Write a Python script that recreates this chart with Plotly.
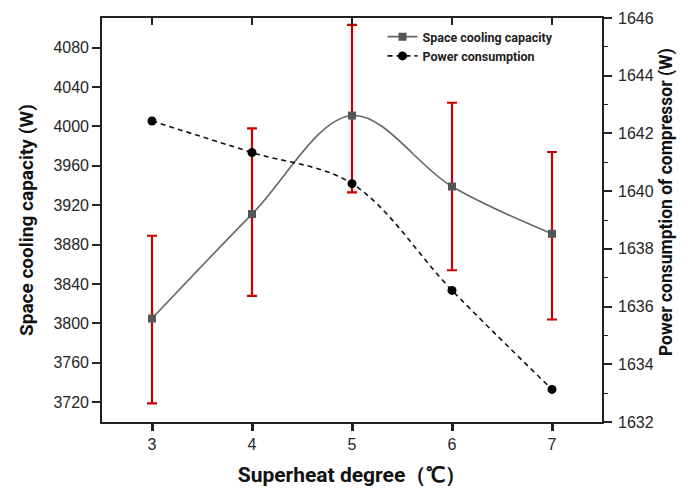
import plotly.graph_objects as go

superheat = [3, 4, 5, 6, 7]
cooling_capacity = [3805, 3911, 4011, 3939, 3891]
cooling_err_plus = [84, 87, 92, 85, 83]
cooling_err_minus = [86, 83, 78, 85, 87]
power_consumption = [1642.43, 1641.34, 1640.26, 1636.56, 1633.13]

left_ticks = [3720, 3760, 3800, 3840, 3880, 3920, 3960, 4000, 4040, 4080]
right_ticks = [1632, 1634, 1636, 1638, 1640, 1642, 1644, 1646]

COND = "Roboto, Liberation Sans, sans-serif"
TICKF = dict(family="Liberation Sans, Arial, sans-serif", size=16, color="#262626")

fig = go.Figure()

fig.add_trace(go.Scatter(
    x=superheat, y=cooling_capacity, name="Space cooling capacity",
    mode="lines+markers",
    line=dict(color="#666666", width=1.6, shape="spline"),
    marker=dict(symbol="square", size=8, color="#555555"),
    error_y=dict(type="data", symmetric=False, array=cooling_err_plus,
                 arrayminus=cooling_err_minus, color="#cc0000", thickness=2.2, width=5),
    xaxis="x", yaxis="y",
))

fig.add_trace(go.Scatter(
    x=superheat, y=power_consumption, name="Power consumption",
    mode="lines+markers",
    line=dict(color="#111111", width=1.6, dash="5px,4px", shape="spline"),
    marker=dict(symbol="circle", size=9, color="#000000"),
    xaxis="x2", yaxis="y2",
))

axline = dict(showline=True, linecolor="#222222", linewidth=1.6, showgrid=False, zeroline=False)

fig.update_layout(
    width=680, height=480,
    margin=dict(l=94, r=86, t=10, b=66, autoexpand=False),
    paper_bgcolor="white", plot_bgcolor="white",
    showlegend=True,
    legend=dict(x=0.561, y=0.99, xanchor="left", yanchor="top",
                bgcolor="rgba(0,0,0,0)", font=dict(family=COND, size=12.5, color="#222222", weight="bold"),
                tracegroupgap=0, itemwidth=30),
    xaxis=dict(range=[2.5, 7.5], tickvals=superheat, ticks="outside", ticklen=7, tickwidth=2.5,
               tickcolor="#222222", tickfont=TICKF, mirror=False,
               title=dict(text="Superheat degree（℃）", font=dict(family=COND, size=21, color="#111111", weight="bold"), standoff=15),
               **axline),
    xaxis2=dict(range=[2.5, 7.5], tickvals=superheat, ticks="inside", ticklen=7, tickwidth=1.6,
                tickcolor="#222222", showticklabels=False, overlaying="x", side="top", anchor="y",
                showline=True, linecolor="#222222", linewidth=1.6, showgrid=False, zeroline=False),
    yaxis=dict(range=[3700, 4110], tickvals=left_ticks, ticks="outside", ticklen=8, tickwidth=1.6,
               tickcolor="#222222", tickfont=TICKF,
               title=dict(text="Space cooling capacity (W)", font=dict(family=COND, size=19, color="#111111", weight="bold"), standoff=15),
               **axline),
    yaxis2=dict(range=[1632, 1646], tickvals=right_ticks, ticks="outside", ticklen=8, tickwidth=1.6,
                tickcolor="#222222", tickfont=TICKF, overlaying="y", side="right", anchor="x",
                ticklabelstandoff=3,
                minor=dict(ticks="outside", ticklen=4, tickwidth=1.2, tickcolor="#222222", dtick=1),
                **axline),
    annotations=[dict(text="Power consumption of compressor (W)", xref="paper", yref="paper",
                      x=1.1306, y=0.545, xanchor="center", yanchor="middle", textangle=-90,
                      showarrow=False,
                      font=dict(family=COND, size=17.5, color="#111111", weight="bold"))],
)

fig.write_html("out.html")
